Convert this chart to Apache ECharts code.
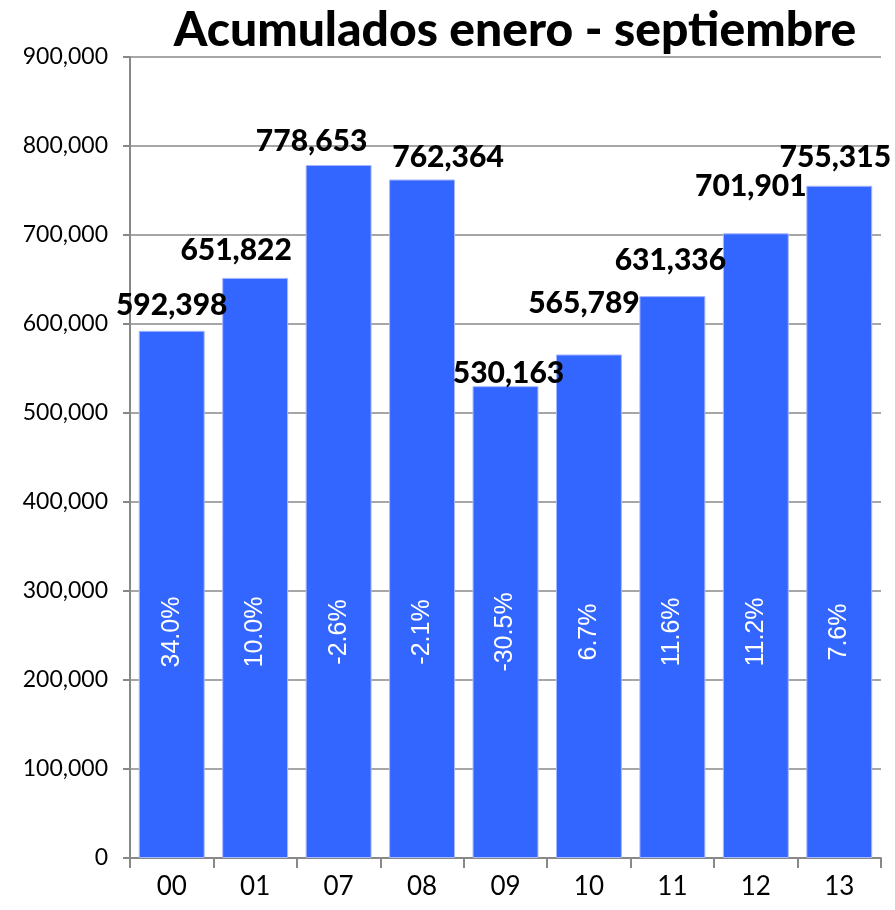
<!DOCTYPE html>
<html><head><meta charset="utf-8">
<script src="https://cdn.jsdelivr.net/npm/echarts@6/dist/echarts.min.js"></script>
<style>html,body{margin:0;padding:0;background:#fff}#c{width:895px;height:910px}</style>
</head><body><div id="c"></div>
<script>
const categories = ['00','01','07','08','09','10','11','12','13'];
const values = [592398, 651822, 778653, 762364, 530163, 565789, 631336, 701901, 755315];
const pctChange = [34.0, 10.0, -2.6, -2.1, -30.5, 6.7, 11.6, 11.2, 7.6];
const yTicks = [0, 100000, 200000, 300000, 400000, 500000, 600000, 700000, 800000, 900000];

const fmt = v => v.toLocaleString('en-US');
// manual nudges of the value labels, as placed in the original chart
const labelNudge = [[0,-2],[-19,-5],[-27,-1],[26,1],[3,10],[-5,-28],[-2,-13],[-5,-24],[-4,-5]];
const chart = echarts.init(document.getElementById('c'));
chart.setOption({
  animation: false,
  title: {
    text: 'Acumulados enero - septiembre',
    left: 510, top: 2, textAlign: 'center',
    textStyle: {fontFamily: 'Lato', fontWeight: 900, fontSize: 48, color: '#000'}
  },
  grid: {left: 130, right: 14, top: 57, bottom: 52},
  xAxis: {
    type: 'category', data: categories,
    axisLine: {lineStyle: {color: '#888', width: 2}},
    axisTick: {show: true, length: 10, lineStyle: {color: '#888', width: 2}},
    axisLabel: {fontFamily: 'Lato', fontSize: 26, color: '#000', margin: 16}
  },
  yAxis: {
    type: 'value', min: yTicks[0], max: yTicks[yTicks.length-1], interval: yTicks[1]-yTicks[0],
    axisLine: {show: true, lineStyle: {color: '#888', width: 2}},
    axisTick: {show: true, length: 7, lineStyle: {color: '#888', width: 2}},
    splitLine: {lineStyle: {color: '#888', width: 1.5}},
    axisLabel: {fontFamily: 'Lato', fontSize: 23, color: '#000', margin: 22, formatter: v => fmt(v)}
  },
  series: [
    {
      type: 'bar', barCategoryGap: '21%',
      data: values.map((v, i) => ({value: v, label: {offset: labelNudge[i]}})),
      itemStyle: {color: '#3366ff', borderColor: '#a8b8ff', borderWidth: 1},
      label: {show: true, position: 'top', distance: 8, formatter: p => fmt(p.value),
        fontFamily: 'Lato', fontWeight: 900, fontSize: 30, color: '#000'},
      z: 2
    },
    {
      type: 'bar', data: values, barGap: '-100%', barCategoryGap: '21%', silent: true,
      itemStyle: {color: 'rgba(0,0,0,0)'},
      label: {show: true, position: 'insideBottom', distance: 226, rotate: 90,
        align: 'center', verticalAlign: 'middle',
        formatter: p => pctChange[p.dataIndex].toFixed(1) + '%',
        fontFamily: 'Liberation Sans', fontSize: 25, color: '#fff'},
      z: 3
    }
  ]
});
</script></body></html>
